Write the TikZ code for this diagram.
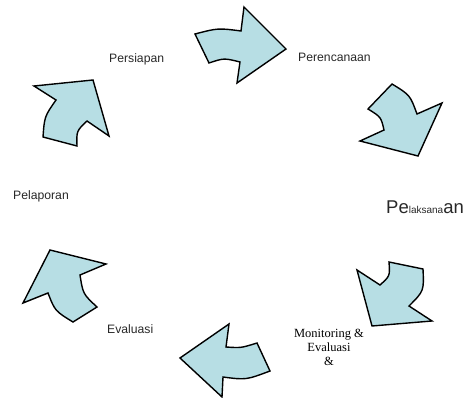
\documentclass[tikz,border=0pt]{standalone}
\usepackage{fontspec}
\setmainfont{Liberation Serif}
\newfontfamily\arialf{Liberation Sans}
\definecolor{arrowfill}{RGB}{183,222,228}
\definecolor{lblgray}{RGB}{40,40,40}
\begin{document}
\begin{tikzpicture}[x=1pt,y=-1pt,
  cyc/.style={draw=black, line width=1.4pt, fill=arrowfill, line join=miter},
  lbl/.style={font=\arialf\fontsize{12.2}{14}\selectfont, inner sep=0pt, text=lblgray, anchor=base west}]
\useasboundingbox (0,0) rectangle (468,398);
% arrow 1 (top, pointing right)
\draw[cyc] (195,34) .. controls (218,28) .. (241,31) -- (244,7) -- (286,49) -- (237,83) -- (240,62) .. controls (224,58) .. (209,63) -- cycle;
% arrow 2 (upper right, pointing down-right)
\draw[cyc] (368,109) -- (392,84) .. controls (410,95) .. (417,114) -- (442,103) -- (418,156) -- (360,141) -- (384,130) .. controls (381,117) .. (368,109) -- cycle;
% arrow 3 (lower right, pointing down-left)
\draw[cyc] (389,262) -- (423,269) .. controls (424,291) .. (409,306) -- (432,321) -- (372,326) -- (357,270) -- (380,285) .. controls (390,276) .. (389,262) -- cycle;
% arrow 4 (bottom, pointing left)
\draw[cyc] (257,343) -- (270,371) .. controls (246,380) .. (223,377) -- (222,397) -- (180,358) -- (229,324) -- (226,347) .. controls (241,348) .. (257,343) -- cycle;
% arrow 5 (lower left, pointing up-left)
\draw[cyc] (50,250) -- (106,264) -- (80,275) .. controls (83,294) .. (97,307) -- (73,322) .. controls (55,311) .. (48,293) -- (23,303) -- cycle;
% arrow 6 (upper left, pointing up-right)
\draw[cyc] (34,86) -- (93,80) -- (109,136) -- (87,121) .. controls (76.5,131) .. (77,146) -- (43,137) .. controls (44.5,116.5) .. (56,100) -- cycle;
% labels
\node[lbl] (persiapan) at (109,63) {Persiapan};
\node[lbl] (perencanaan) at (298,62) {Perencanaan};
\node[lbl] (pelaksanaan) at (386,213) {\fontsize{18.5}{20}\selectfont Pe\fontsize{10}{12}\selectfont laksana\fontsize{18.5}{20}\selectfont an};
\node[lbl] (pelaporan) at (13,199) {Pelaporan};
\node[lbl] (evaluasi) at (107,333) {Evaluasi};
\node[font=\fontsize{12.5}{14}\selectfont, align=center, inner sep=0pt, anchor=north] (monev) at (329,329) {Monitoring \&\\Evaluasi\\\&};
\end{tikzpicture}
\end{document}
